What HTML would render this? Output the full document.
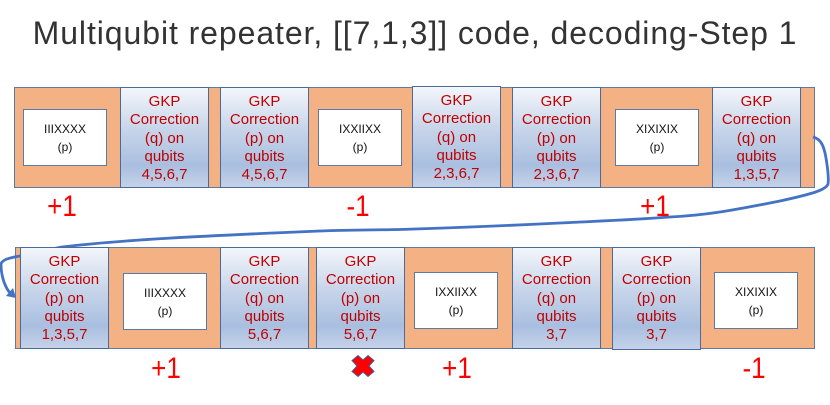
<!DOCTYPE html>
<html><head><meta charset="utf-8"><style>
html,body{margin:0;padding:0;background:#fff}
#c{position:relative;width:830px;height:405px;overflow:hidden;font-family:"Liberation Sans",sans-serif}
.bar{position:absolute;background:#f4b183;border:1px solid #5b7aa8;box-sizing:border-box}
.g{position:absolute;box-sizing:border-box;border:1px solid #4a6a9c;background:linear-gradient(#f3f6fb 0%,#c9d6ea 40%,#a9bfe0 78%,#c4d2e8 100%);color:#c00000;font-size:15px;line-height:18.3px;text-align:center;padding-top:5px;width:89px}
.w{position:absolute;box-sizing:border-box;background:#fff;border:1.5px solid #5b7aa8;width:84px;height:57px;text-align:center;font-size:12px;line-height:18px;color:#111;padding-top:10px}
.r{position:absolute;color:#f00;font-size:26px;line-height:30px;width:60px;text-align:center;transform:scaleY(1.13)}
#t{position:absolute;left:0;top:12px;width:830px;text-align:center;font-size:32px;letter-spacing:.92px;line-height:42px;color:#333;white-space:nowrap}
svg{position:absolute;left:0;top:0}
</style></head><body><div id="c">
<div id="t">Multiqubit repeater, [[7,1,3]] code, decoding-Step 1</div>
<div class="bar" style="left:14px;top:87px;width:801px;height:101px"></div>
<div class="bar" style="left:15px;top:247px;width:800px;height:102px"></div>

<svg width="830" height="405" viewBox="0 0 830 405">
<path d="M813 137 C821 139 824 146 826 158 C828 170 829 178 828 184 C826 190 812 194 780 201 C760 205 740 209 720 212 C700 215 690 216 670 217 C630 220 600 221 560 223 C500 226 450 228 400 229.5 C370 230 345 230 320 231 C200 236 120 240 62 247 C45 250 30 254 20 256 C8 258 2 260 1 264 C1 276 5 288 11 294" fill="none" stroke="#4472c4" stroke-width="2.8"/>
</svg>

<div class="w" style="left:23px;top:109px">IIIXXXX<br>(p)</div>
<div class="g" style="left:120px;top:87px;height:101px">GKP<br>Correction<br>(q) on<br>qubits<br>4,5,6,7</div>
<div class="g" style="left:220px;top:87px;height:101px">GKP<br>Correction<br>(p) on<br>qubits<br>4,5,6,7</div>
<div class="w" style="left:318px;top:109px">IXXIIXX<br>(p)</div>
<div class="g" style="left:412px;top:86px;height:102px">GKP<br>Correction<br>(q) on<br>qubits<br>2,3,6,7</div>
<div class="g" style="left:512px;top:87px;height:101px">GKP<br>Correction<br>(p) on<br>qubits<br>2,3,6,7</div>
<div class="w" style="left:615px;top:109px">XIXIXIX<br>(p)</div>
<div class="g" style="left:712px;top:87px;height:101px">GKP<br>Correction<br>(q) on<br>qubits<br>1,3,5,7</div>

<div class="g" style="left:20px;top:247px;height:102px">GKP<br>Correction<br>(p) on<br>qubits<br>1,3,5,7</div>
<div class="w" style="left:123px;top:273px">IIIXXXX<br>(p)</div>
<div class="g" style="left:220px;top:247px;height:102px">GKP<br>Correction<br>(q) on<br>qubits<br>5,6,7</div>
<div class="g" style="left:316px;top:247px;height:102px">GKP<br>Correction<br>(p) on<br>qubits<br>5,6,7</div>
<div class="w" style="left:414px;top:272px">IXXIIXX<br>(p)</div>
<div class="g" style="left:512px;top:247px;height:102px">GKP<br>Correction<br>(q) on<br>qubits<br>3,7</div>
<div class="g" style="left:612px;top:247px;height:103px">GKP<br>Correction<br>(p) on<br>qubits<br>3,7</div>
<div class="w" style="left:714px;top:272px">XIXIXIX<br>(p)</div>

<div class="r" style="left:32px;top:191px">+1</div>
<div class="r" style="left:328px;top:191px">-1</div>
<div class="r" style="left:625px;top:191px">+1</div>
<div class="r" style="left:136px;top:353px">+1</div>
<div class="r" style="left:427px;top:353px">+1</div>
<div class="r" style="left:724px;top:353px">-1</div>

<svg width="830" height="405" viewBox="0 0 830 405">
<path d="M16 298 L6 296 L13 288 Z" fill="#4472c4"/>
<path d="M363 360 L368 355.5 L374 360.5 L369 366 L374 371.5 L368 376.5 L363 372 L358 376.5 L352 371.5 L357 366 L352 360.5 L358 355.5 Z" fill="#f00" stroke="#3f5f9e" stroke-width="1"/>
</svg>
</div></body></html>
